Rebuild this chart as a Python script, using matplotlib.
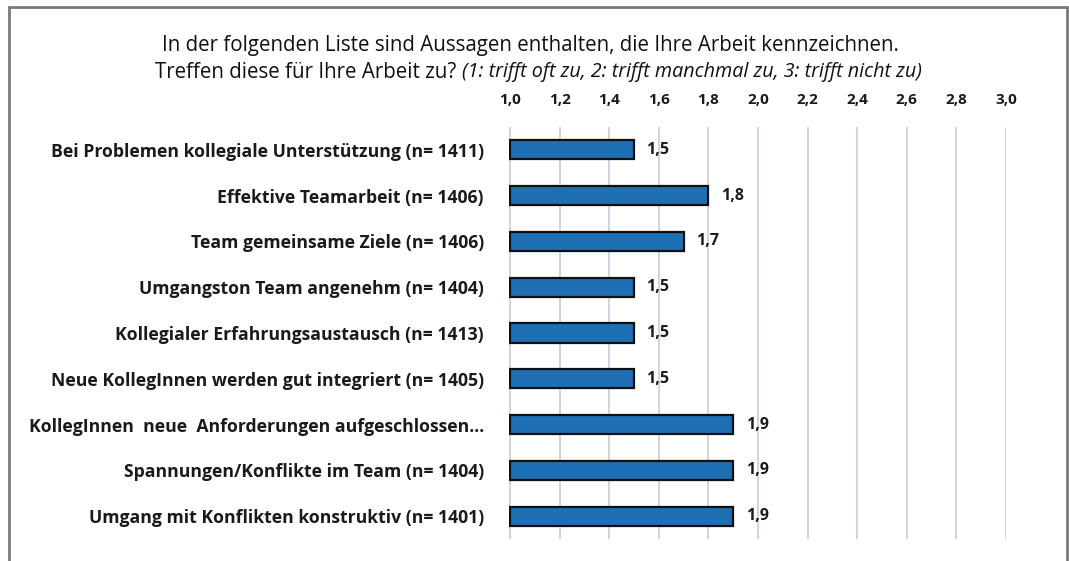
import matplotlib.pyplot as plt
import matplotlib.patches as mpatches
from matplotlib.transforms import offset_copy

# Daten
categories = [
    'Bei Problemen kollegiale Unterstützung (n= 1411)',
    'Effektive Teamarbeit (n= 1406)',
    'Team gemeinsame Ziele (n= 1406)',
    'Umgangston Team angenehm (n= 1404)',
    'Kollegialer Erfahrungsaustausch (n= 1413)',
    'Neue KollegInnen werden gut integriert (n= 1405)',
    'KollegInnen  neue  Anforderungen aufgeschlossen…',
    'Spannungen/Konflikte im Team (n= 1404)',
    'Umgang mit Konflikten konstruktiv (n= 1401)',
]
values = [1.5, 1.8, 1.7, 1.5, 1.5, 1.5, 1.9, 1.9, 1.9]
ticks = [1.0, 1.2, 1.4, 1.6, 1.8, 2.0, 2.2, 2.4, 2.6, 2.8, 3.0]

plt.rcParams['font.family'] = ['Open Sans', 'DejaVu Sans']

fig = plt.figure(figsize=(10.69, 5.61), dpi=100)
ax = fig.add_axes([0.476, 0.039, 0.465, 0.735])

y = list(range(len(categories)))
base = ticks[0]
ax.barh(y, [v - base for v in values], left=base, height=0.42,
        color='#1f6fb4', edgecolor='#111111', linewidth=1.6, zorder=3)

for yi, v in zip(y, values):
    ax.text(v + 0.05, yi, ('%.1f' % v).replace('.', ','), va='center', ha='left',
            fontsize=11.5, fontweight='bold', color='#1a1a1a')

ax.set_xlim(0.995, 3.0)
ax.set_ylim(len(categories) - 0.5, -0.5)
ax.set_xticks(ticks)
ax.set_xticklabels([('%.1f' % t).replace('.', ',') for t in ticks],
                   fontsize=11, fontweight='bold', color='#1a1a1a')
ax.xaxis.tick_top()
ax.tick_params(axis='x', length=0, pad=14)
ax.set_yticks(y)
ax.set_yticklabels(categories, fontsize=12.7, fontweight='bold', color='#1a1a1a')
ax.tick_params(axis='y', length=0, pad=18)
ax.grid(axis='x', color='#c9d3db', linewidth=1.3, zorder=0)
for s in ax.spines.values():
    s.set_visible(False)

# Rahmen
fig.patches.append(mpatches.Rectangle((9 / 1069, -0.05), 1058 / 1069, 1 - 7 / 561 + 0.05,
                                      transform=fig.transFigure, fill=False,
                                      edgecolor='#7a7a7a', linewidth=2))

# Titel
fig.text(530 / 1069, 1 - 45 / 561, 'In der folgenden Liste sind Aussagen enthalten, die Ihre Arbeit kennzeichnen.',
         ha='center', va='center', fontsize=14.8, color='#111111')
t1 = fig.text(155 / 1069, 1 - 72 / 561, 'Treffen diese für Ihre Arbeit zu? ',
              ha='left', va='center', fontsize=14.8, color='#111111')
fig.canvas.draw()
w = t1.get_window_extent().width
fig.text(155 / 1069, 1 - 72 / 561, '(1: trifft oft zu, 2: trifft manchmal zu, 3: trifft nicht zu)',
         ha='left', va='center', fontsize=14.2, style='italic', color='#111111',
         transform=offset_copy(fig.transFigure, fig=fig, x=w, y=0, units='dots'))

fig.savefig('out.png', dpi=100)
